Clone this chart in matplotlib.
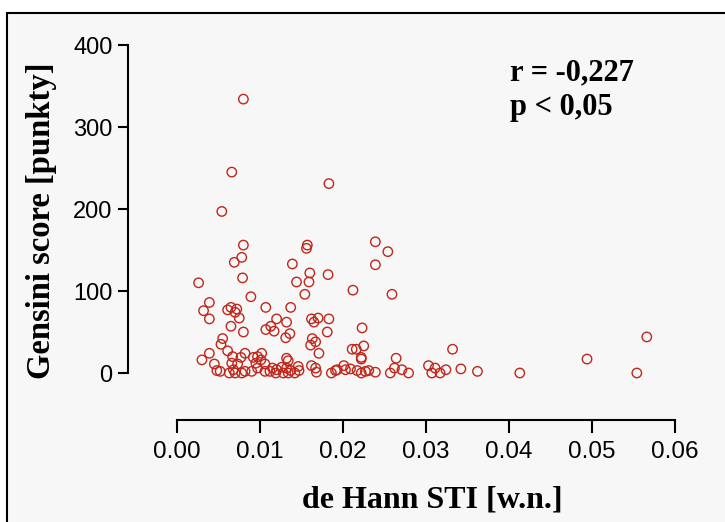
import matplotlib
matplotlib.use("Agg")
import matplotlib.pyplot as plt
from matplotlib.patches import Rectangle

# de Hann STI [w.n.]
sti = [0.0080, 0.0066, 0.0183, 0.0054, 0.0080, 0.0157, 0.0156, 0.0078, 0.0069, 0.0139,
       0.0239, 0.0254, 0.0239, 0.0160, 0.0182, 0.0079, 0.0026, 0.0144, 0.0159, 0.0212,
       0.0259, 0.0154, 0.0089, 0.0039, 0.0032, 0.0061, 0.0065, 0.0070, 0.0072, 0.0075,
       0.0039, 0.0107, 0.0137, 0.0120, 0.0132, 0.0162, 0.0165, 0.0170, 0.0183, 0.0065,
       0.0080, 0.0107, 0.0113, 0.0117, 0.0131, 0.0136, 0.0181, 0.0223, 0.0055, 0.0053,
       0.0163, 0.0167, 0.0161, 0.0211, 0.0216, 0.0225, 0.0061, 0.0039, 0.0030, 0.0067,
       0.0077, 0.0082, 0.0092, 0.0097, 0.0102, 0.0101, 0.0132, 0.0134, 0.0171, 0.0222,
       0.0222, 0.0045, 0.0066, 0.0073, 0.0095, 0.0106, 0.0146, 0.0162, 0.0167, 0.0201,
       0.0048, 0.0052, 0.0063, 0.0068, 0.0070, 0.0078, 0.0082, 0.0090, 0.0097, 0.0106,
       0.0112, 0.0115, 0.0119, 0.0120, 0.0126, 0.0128, 0.0132, 0.0134, 0.0137, 0.0142,
       0.0147, 0.0168, 0.0186, 0.0191, 0.0193, 0.0203, 0.0209, 0.0217, 0.0222, 0.0227,
       0.0231, 0.0239, 0.0332, 0.0264, 0.0262, 0.0271, 0.0279, 0.0257, 0.0303, 0.0311,
       0.0307, 0.0317, 0.0324, 0.0342, 0.0362, 0.0413, 0.0494, 0.0566, 0.0554]

# Gensini score [punkty]
gensini = [334, 245, 231, 197, 156, 156, 152, 141, 135, 133,
           160, 148, 132, 122, 120, 116, 110, 111, 111, 101,
           96, 96, 93, 86, 76, 77, 80, 74, 78, 67,
           66, 80, 80, 66, 62, 66, 62, 67, 66, 57,
           50, 53, 57, 51, 43, 48, 50, 55, 42, 35,
           42, 38, 34, 29, 29, 33, 27, 24, 16, 20,
           19, 24, 19, 20, 24, 16, 18, 15, 24, 19,
           17, 11, 12, 11, 12, 11, 8, 9, 6, 9,
           3, 2, 0, 4, 0, 0, 2, 2, 6, 2,
           2, 6, 0, 4, 7, 0, 6, 0, 3, 0,
           3, 1, 0, 3, 4, 4, 5, 3, 0, 2,
           3, 1, 29, 18, 6, 4, 0, 0, 9, 6,
           0, 0, 4, 5, 2, 0, 17, 44, 0]

x_ticks = [0.00, 0.01, 0.02, 0.03, 0.04, 0.05, 0.06]
x_tick_labels = ["0.00", "0.01", "0.02", "0.03", "0.04", "0.05", "0.06"]
y_ticks = [0, 100, 200, 300, 400]
y_tick_labels = ["0", "100", "200", "300", "400"]

W, H = 725, 522
fig = plt.figure(figsize=(W / 100, H / 100), dpi=100, facecolor="white")

# framed panel background
frame = Rectangle((7 / W, -0.2), 2.0, (1 - 13 / H) + 0.2, transform=fig.transFigure,
                  facecolor="#f7f7f7", edgecolor="black", linewidth=1.5, zorder=-5)
fig.patches.append(frame)

# axes placement (pixel based)
ax_l, ax_r, ax_b, ax_t = 128, 690, 420, 40
ax = fig.add_axes([ax_l / W, 1 - ax_b / H, (ax_r - ax_l) / W, (ax_b - ax_t) / H])
ax.set_facecolor("none")
ax.set_zorder(2)

# pixel calibration -> data limits
x0px, pxper = 177, 8300.0
y0px, pyper = 373, 0.82
ax.set_xlim((ax_l - x0px) / pxper, (ax_r - x0px) / pxper)
ax.set_ylim((y0px - ax_b) / pyper, (y0px - ax_t) / pyper)

ax.scatter(sti, gensini, s=46, facecolors="none", edgecolors="#c0261a",
           linewidths=1.0, zorder=3)

for s in ["top", "right"]:
    ax.spines[s].set_visible(False)
ax.spines["left"].set_bounds(0, 400)
ax.spines["bottom"].set_bounds(0, 0.06)
for s in ["left", "bottom"]:
    ax.spines[s].set_linewidth(1.5)

ax.set_xticks(x_ticks)
ax.set_xticklabels(x_tick_labels)
ax.set_yticks(y_ticks)
ax.set_yticklabels(y_tick_labels)
tick_font = "Liberation Sans"
ax.tick_params(axis="x", direction="out", length=9, width=1.5, pad=6,
               labelsize=17.5, labelfontfamily=tick_font)
ax.tick_params(axis="y", direction="out", length=7, width=1.5, pad=4,
               labelsize=17, labelfontfamily=tick_font)

serif = "Liberation Serif"
fig.text(432 / W, 1 - 500 / H, "de Hann STI [w.n.]", ha="center", va="center",
         fontsize=23, fontweight="bold", family=serif)
fig.text(42 / W, 1 - 221 / H, "Gensini score [punkty]", ha="center", va="center",
         rotation=90, fontsize=23.5, fontweight="bold", family=serif)

fig.text(510 / W, 1 - 73 / H, "r = -0,227", ha="left", va="center",
         fontsize=22, fontweight="bold", family=serif)
fig.text(510 / W, 1 - 108 / H, "p < 0,05", ha="left", va="center",
         fontsize=22, fontweight="bold", family=serif)

fig.savefig("out.png", dpi=100, facecolor="white")
